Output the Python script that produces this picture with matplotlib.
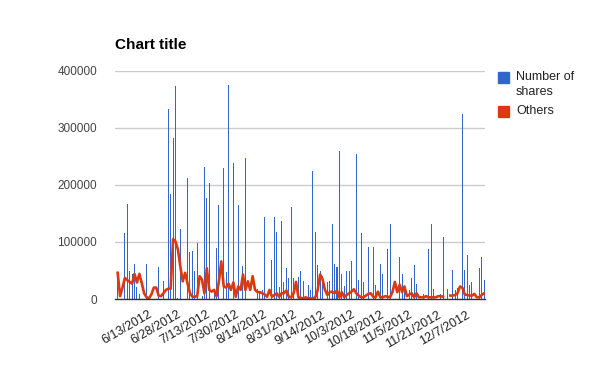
import numpy as np
import matplotlib
matplotlib.use("Agg")
import matplotlib.pyplot as plt
from matplotlib.patches import Rectangle
import matplotlib.transforms as mtransforms

plt.rcParams['font.family'] = ['Liberation Sans', 'DejaVu Sans']

nan = np.nan

# values, one entry per category (153 dates)
shares = [48000, 0, 0, 115000, 167000, 50000, 44000, 62000, 21000, 8000,
          0, 0, 62000, 0, 0, 0, 0, 57000, 0, 32000,
          0, 334000, 185000, 283000, 373000, 2000, 122000, 0, 0, 213000,
          83000, 85000, 50000, 99000, 0, 6000, 232000, 178000, 204000, 0,
          18000, 90000, 165000, 0, 229000, 48000, 376000, 0, 239000, 0,
          165000, 0, 58000, 248000, 0, 0, 0, 0, 18000, 10000,
          15000, 143000, 0, 0, 69000, 144000, 118000, 21000, 136000, 30000,
          55000, 37000, 162000, 37000, 0, 39000, 50000, 32000, 0, 25000,
          16000, 225000, 118000, 60000, 50000, 41000, 0, 29000, 32000, 132000,
          62000, 57000, 260000, 44000, 23000, 50000, 50000, 67000, 0, 255000,
          34000, 116000, 29000, 0, 92000, 0, 92000, 25000, 0, 62000,
          44000, 0, 87000, 132000, 0, 0, 0, 74000, 44000, 16000,
          0, 16000, 37000, 60000, 27000, 0, 0, 9000, 0, 88000,
          132000, 18000, 0, 0, 8000, 108000, 0, 18000, 0, 51000,
          16000, 20000, 0, 325000, 51000, 78000, 25000, 29000, 0, 0,
          55000, 73000, 34000]

others = [46000, 5000, 20000, 37000, 33000, 30000, 27000, 44000, 29000, 44000,
          28000, 10000, 3000, 1000, 8000, 20000, 20000, 6000, 5000, 10000,
          16000, 18000, 18000, 105000, 101000, 87000, 57000, 31000, 46000, 27000,
          10000, 4000, 4000, 5000, 40000, 34000, 10000, 54000, 16000, 13000,
          16000, 5000, 31000, 66000, 22000, 20000, 27000, 16000, 29000, 4000,
          22000, 16000, 43000, 16000, 31000, 16000, 40000, 16000, 12000, 12000,
          10000, 8000, 4000, 16000, 4000, 7000, 10000, 4000, 10000, 10000,
          15000, 4000, 3000, 10000, 30000, 3000, 2000, 1000, 3000, 1000,
          1000, 1000, 3000, 16000, 43000, 35000, 16000, 7000, 12000, 13000,
          10000, 15000, 3000, 12000, 3000, 7000, 10000, 13000, 17000, 10000,
          6000, 3000, 3000, 6000, 9000, 10000, 4000, 3000, 13000, 3000,
          3000, 5000, 4000, 3000, 12000, 30000, 12000, 25000, 12000, 22000,
          5000, 8000, 10000, 3000, 10000, 3000, 3000, 3000, 5000, 3000,
          3000, 3000, 3000, 5000, 5000, 4000, nan, nan, 6000, 6000,
          7000, 10000, 22000, 20000, 8000, 7000, 6000, 6000, 9000, 3000,
          3000, 7000, 10000]

tick_pos = [11, 23, 35, 47, 59, 71, 83, 95, 107, 119, 131, 143]
tick_labels = ['6/13/2012', '6/28/2012', '7/13/2012', '7/30/2012', '8/14/2012',
               '8/31/2012', '9/14/2012', '10/3/2012', '10/18/2012', '11/5/2012',
               '11/21/2012', '12/7/2012']
y_ticks = [0, 100000, 200000, 300000, 400000]

blue = '#3366cc'
red = '#dc3912'

fig = plt.figure(figsize=(6, 3.71), dpi=100)
ax = fig.add_axes([115/600, 72/371, 370/600, 228/371])

x = np.arange(len(shares))
ax.bar(x, shares, width=0.42, color=blue, linewidth=0, zorder=2)
ax.plot(x, others, color=red, lw=1.9, zorder=3, solid_joinstyle='round')

ax.set_xlim(-1.1, len(shares) - 0.6)
ax.set_ylim(0, 400000)
ax.set_yticks(y_ticks)
ax.set_yticklabels([str(v) for v in y_ticks], fontsize=8.5, color='#444444')
ax.grid(axis='y', color='#cccccc', lw=1)
ax.set_axisbelow(True)
for s in ['top', 'right', 'left']:
    ax.spines[s].set_visible(False)
ax.spines['bottom'].set_color('#333333')
ax.spines['bottom'].set_linewidth(1)
ax.spines['bottom'].set_zorder(4)
ax.tick_params(axis='y', length=0, pad=13)
ax.tick_params(axis='x', length=0, pad=7)

ax.set_xticks(tick_pos)
ax.set_xticklabels(tick_labels, fontsize=9, color='#222222',
                   rotation=30, ha='right', rotation_mode='anchor')
offset = mtransforms.ScaledTranslation(4/100, 0, fig.dpi_scale_trans)
for lbl in ax.get_xticklabels():
    lbl.set_transform(lbl.get_transform() + offset)

fig.text(115/600, 1 - 45/371, 'Chart title', fontsize=11, fontweight='bold',
         va='center', ha='left', color='#000000')

# legend on the right
fig.patches.append(Rectangle((498/600, 1 - 83/371), 11/600, 11/371,
                             transform=fig.transFigure, color=blue))
fig.patches.append(Rectangle((498/600, 1 - 117/371), 11/600, 11/371,
                             transform=fig.transFigure, color=red))
fig.text(516/600, 1 - 77/371, 'Number of', fontsize=9, va='center', color='#222222')
fig.text(516/600, 1 - 92/371, 'shares', fontsize=9, va='center', color='#222222')
fig.text(516/600, 1 - 111/371, 'Others', fontsize=9, va='center', color='#222222')

fig.savefig('out.png', dpi=100)
